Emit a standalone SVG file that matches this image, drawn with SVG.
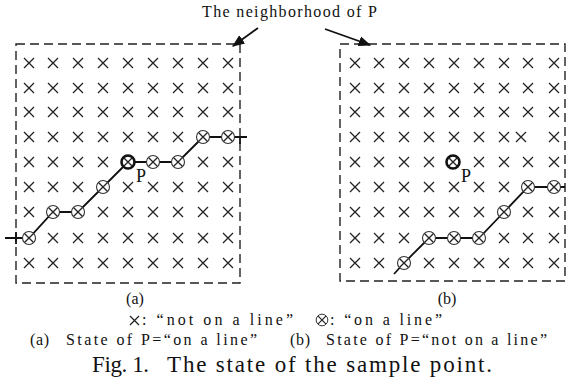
<svg xmlns="http://www.w3.org/2000/svg" xmlns:xlink="http://www.w3.org/1999/xlink" width="567" height="379" viewBox="0 0 567 379">
<style>
.box{fill:none;stroke:#222;stroke-width:1.4;stroke-dasharray:9 5}
.x{stroke:#222;stroke-width:1.3;fill:none}
.o{fill:#fff;stroke:#333;stroke-width:1.1}
.ob{fill:#fff;stroke:#111;stroke-width:2.6}
.ln{stroke:#111;stroke-width:1.8;fill:none}
.t{font-family:"Liberation Serif","DejaVu Serif",serif;fill:#111}
</style>
<defs>
<path id="x" class="x" d="M-5,-5L5,5M5,-5L-5,5"/>
<g id="o"><circle class="o" r="6.5"/><path class="x" stroke-width="1" d="M-4.3,-4.3L4.3,4.3M4.3,-4.3L-4.3,4.3"/></g>
<g id="ob"><circle class="ob" r="6.5"/><path class="x" stroke-width="1" d="M-4.3,-4.3L4.3,4.3M4.3,-4.3L-4.3,4.3"/></g>
<marker id="ah" viewBox="0 0 10 10" refX="9" refY="5" markerWidth="7" markerHeight="7" orient="auto-start-reverse"><path d="M0,1L10,5L0,9z" fill="#111"/></marker>
</defs>

<text class="t" x="202" y="17" font-size="16" textLength="175" lengthAdjust="spacing">The neighborhood of P</text>

<g id="panel-a">
<rect class="box" x="16" y="44" width="224" height="239"/>
<g id="crosses-a">
<use href="#x" x="29" y="63"/><use href="#x" x="53" y="63"/><use href="#x" x="78" y="63"/><use href="#x" x="103" y="63"/><use href="#x" x="128" y="63"/><use href="#x" x="153" y="63"/><use href="#x" x="178" y="63"/><use href="#x" x="203" y="63"/><use href="#x" x="228" y="63"/>
<use href="#x" x="29" y="88"/><use href="#x" x="53" y="88"/><use href="#x" x="78" y="88"/><use href="#x" x="103" y="88"/><use href="#x" x="128" y="88"/><use href="#x" x="153" y="88"/><use href="#x" x="178" y="88"/><use href="#x" x="203" y="88"/><use href="#x" x="228" y="88"/>
<use href="#x" x="29" y="112"/><use href="#x" x="53" y="112"/><use href="#x" x="78" y="112"/><use href="#x" x="103" y="112"/><use href="#x" x="128" y="112"/><use href="#x" x="153" y="112"/><use href="#x" x="178" y="112"/><use href="#x" x="203" y="112"/><use href="#x" x="228" y="112"/>
<use href="#x" x="29" y="137"/><use href="#x" x="53" y="137"/><use href="#x" x="78" y="137"/><use href="#x" x="103" y="137"/><use href="#x" x="128" y="137"/><use href="#x" x="153" y="137"/><use href="#x" x="178" y="137"/>
<use href="#x" x="29" y="162"/><use href="#x" x="53" y="162"/><use href="#x" x="78" y="162"/><use href="#x" x="103" y="162"/><use href="#x" x="203" y="162"/><use href="#x" x="228" y="162"/>
<use href="#x" x="29" y="187"/><use href="#x" x="53" y="187"/><use href="#x" x="78" y="187"/><use href="#x" x="128" y="187"/><use href="#x" x="153" y="187"/><use href="#x" x="178" y="187"/><use href="#x" x="203" y="187"/><use href="#x" x="228" y="187"/>
<use href="#x" x="29" y="212"/><use href="#x" x="103" y="212"/><use href="#x" x="128" y="212"/><use href="#x" x="153" y="212"/><use href="#x" x="178" y="212"/><use href="#x" x="203" y="212"/><use href="#x" x="228" y="212"/>
<use href="#x" x="53" y="238"/><use href="#x" x="78" y="238"/><use href="#x" x="103" y="238"/><use href="#x" x="128" y="238"/><use href="#x" x="153" y="238"/><use href="#x" x="178" y="238"/><use href="#x" x="203" y="238"/><use href="#x" x="228" y="238"/>
<use href="#x" x="29" y="263"/><use href="#x" x="53" y="263"/><use href="#x" x="78" y="263"/><use href="#x" x="103" y="263"/><use href="#x" x="128" y="263"/><use href="#x" x="153" y="263"/><use href="#x" x="178" y="263"/><use href="#x" x="203" y="263"/><use href="#x" x="228" y="263"/>
</g>
</g>

<g id="panel-b">
<rect class="box" x="340" y="44" width="225" height="237"/>
<g id="crosses-b">
<use href="#x" x="355" y="63"/><use href="#x" x="379" y="63"/><use href="#x" x="404" y="63"/><use href="#x" x="429" y="63"/><use href="#x" x="454" y="63"/><use href="#x" x="479" y="63"/><use href="#x" x="504" y="63"/><use href="#x" x="528" y="63"/><use href="#x" x="554" y="63"/>
<use href="#x" x="355" y="88"/><use href="#x" x="379" y="88"/><use href="#x" x="404" y="88"/><use href="#x" x="429" y="88"/><use href="#x" x="454" y="88"/><use href="#x" x="479" y="88"/><use href="#x" x="504" y="88"/><use href="#x" x="528" y="88"/><use href="#x" x="554" y="88"/>
<use href="#x" x="355" y="112"/><use href="#x" x="379" y="112"/><use href="#x" x="404" y="112"/><use href="#x" x="429" y="112"/><use href="#x" x="454" y="112"/><use href="#x" x="479" y="112"/><use href="#x" x="504" y="112"/><use href="#x" x="528" y="112"/><use href="#x" x="554" y="112"/>
<use href="#x" x="355" y="137"/><use href="#x" x="379" y="137"/><use href="#x" x="404" y="137"/><use href="#x" x="429" y="137"/><use href="#x" x="454" y="137"/><use href="#x" x="479" y="137"/><use href="#x" x="504" y="137"/><use href="#x" x="521" y="137"/><use href="#x" x="554" y="137"/>
<use href="#x" x="355" y="162"/><use href="#x" x="379" y="162"/><use href="#x" x="404" y="162"/><use href="#x" x="429" y="162"/><use href="#x" x="479" y="162"/><use href="#x" x="504" y="162"/><use href="#x" x="528" y="162"/><use href="#x" x="554" y="162"/>
<use href="#x" x="355" y="187"/><use href="#x" x="379" y="187"/><use href="#x" x="404" y="187"/><use href="#x" x="429" y="187"/><use href="#x" x="454" y="187"/><use href="#x" x="479" y="187"/><use href="#x" x="504" y="187"/>
<use href="#x" x="355" y="212"/><use href="#x" x="379" y="212"/><use href="#x" x="404" y="212"/><use href="#x" x="429" y="212"/><use href="#x" x="454" y="212"/><use href="#x" x="479" y="212"/><use href="#x" x="528" y="212"/><use href="#x" x="554" y="212"/>
<use href="#x" x="355" y="238"/><use href="#x" x="379" y="238"/><use href="#x" x="404" y="238"/><use href="#x" x="504" y="238"/><use href="#x" x="528" y="238"/><use href="#x" x="554" y="238"/>
<use href="#x" x="355" y="263"/><use href="#x" x="379" y="263"/><use href="#x" x="429" y="263"/><use href="#x" x="454" y="263"/><use href="#x" x="479" y="263"/><use href="#x" x="504" y="263"/><use href="#x" x="528" y="263"/><use href="#x" x="554" y="263"/>
</g>
</g>

<g id="connectors">
<line class="ln" x1="258" y1="28" x2="233" y2="46" marker-end="url(#ah)"/>
<line class="ln" x1="325" y1="29" x2="370" y2="45" marker-end="url(#ah)"/>
<polyline class="ln" points="5,238 29,238 53,212 78,212 103,187 128,162 153,162 178,162 203,137 228,137 247,137"/>
<line class="ln" x1="240" y1="137" x2="240" y2="144"/>
<line class="ln" x1="16" y1="232" x2="16" y2="244"/>
<polyline class="ln" points="394,274 404,263 429,238 454,238 479,238 504,212 528,187 554,187 565,187"/>
</g>

<g id="line-points-a">
<use href="#o" x="29" y="238"/><use href="#o" x="53" y="212"/><use href="#o" x="78" y="212"/><use href="#o" x="103" y="187"/><use href="#ob" x="128" y="162"/><use href="#o" x="153" y="162"/><use href="#o" x="178" y="162"/><use href="#o" x="203" y="137"/><use href="#o" x="228" y="137"/>
<text class="t" x="136" y="182" font-size="18">P</text>
</g>
<g id="line-points-b">
<use href="#o" x="404" y="263"/><use href="#o" x="429" y="238"/><use href="#o" x="454" y="238"/><use href="#o" x="479" y="238"/><use href="#o" x="504" y="212"/><use href="#o" x="528" y="187"/><use href="#o" x="554" y="187"/>
<use href="#ob" x="453" y="162"/>
<text class="t" x="461" y="182" font-size="18">P</text>
</g>

<g id="captions">
<text class="t" x="135" y="304" font-size="16" text-anchor="middle">(a)</text>
<text class="t" x="447" y="304" font-size="16" text-anchor="middle">(b)</text>
<path class="x" d="M130,316L139,325M139,316L130,325"/>
<text class="t" x="142" y="325" font-size="16" textLength="151" lengthAdjust="spacing">: “not on a line”</text>
<g transform="translate(322 320) scale(0.9)"><circle class="o" r="6.5"/><path class="x" stroke-width="1" d="M-4.3,-4.3L4.3,4.3M4.3,-4.3L-4.3,4.3"/></g>
<text class="t" x="330" y="325" font-size="16" textLength="112" lengthAdjust="spacing">: “on a line”</text>
<text class="t" x="30" y="345" font-size="16" textLength="19" lengthAdjust="spacing">(a)</text>
<text class="t" x="66" y="345" font-size="16" textLength="191" lengthAdjust="spacing">State of P=“on a line”</text>
<text class="t" x="290" y="345" font-size="16" textLength="20" lengthAdjust="spacing">(b)</text>
<text class="t" x="326" y="345" font-size="16" textLength="221" lengthAdjust="spacing">State of P=“not on a line”</text>
<text class="t" x="92" y="372" font-size="23" textLength="57" lengthAdjust="spacing">Fig. 1.</text>
<text class="t" x="167" y="372" font-size="23" textLength="325" lengthAdjust="spacing">The state of the sample point.</text>
</g>
</svg>
